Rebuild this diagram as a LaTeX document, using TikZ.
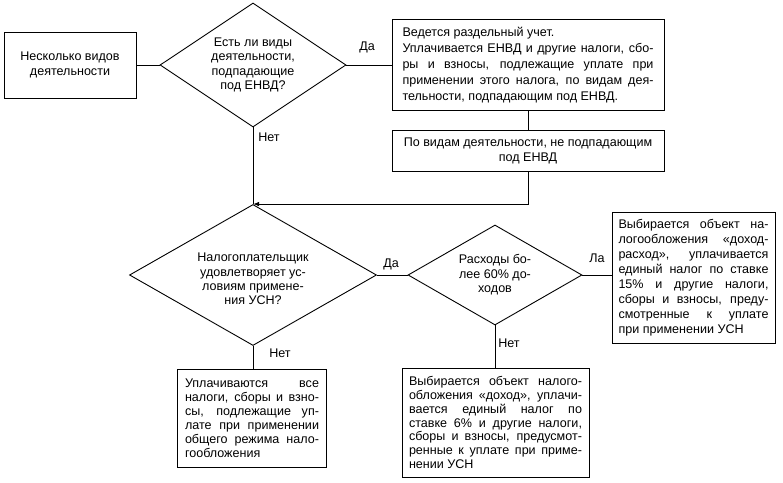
\documentclass[tikz,border=0pt]{standalone}
\usepackage{fontspec}
\setmainfont{Liberation Sans}
\usetikzlibrary{arrows.meta,shapes.geometric}

\begin{document}
\begin{tikzpicture}[
  x=1bp, y=-1bp,
  >={Latex[length=6bp,width=4.5bp]},
  line width=0.9bp,
  box/.style={draw,rectangle,inner sep=0pt,font=\fontsize{12.6}{14}\selectfont},
  dia/.style={draw,diamond,inner sep=0pt},
  dtext/.style={align=center,inner sep=0pt,font=\fontsize{12.6}{14.5}\selectfont},
  lbl/.style={inner sep=0pt,font=\fontsize{12.6}{14}\selectfont}
]
  \useasboundingbox (0,0) rectangle (783,483);

  % Upper part: ENVD question
  \node[box,minimum width=132bp,minimum height=66bp,align=center,
    font=\fontsize{12.6}{15}\selectfont] (start) at (70,65)
    {Несколько видов\\деятельности};
  \node[dia,minimum width=186bp,minimum height=124bp] (envd) at (253,65) {};
  \node[dtext] at (envd) {Есть ли виды\\деятельности,\\подпадающие\\под ЕНВД?};

  \node[box,minimum width=272bp,minimum height=91bp,text width=251bp,align=justify,
    font=\fontsize{12.6}{16}\selectfont] (split) at (528,65)
    {Ведется раздельный учет.\\
     Уплачивается ЕНВД и другие налоги, сбо-\linebreak ры и взносы, подлежащие уплате при\linebreak
     применении этого налога, по видам дея-\linebreak тельности, подпадающим под ЕНВД.};
  \node[box,minimum width=272bp,minimum height=41bp,align=center,
    font=\fontsize{12.6}{15}\selectfont] (rest) at (528,150.5)
    {По видам деятельности, не подпадающим\\под ЕНВД};

  % Lower part: USN question
  \node[dia,minimum width=247bp,minimum height=141bp] (usn) at (253,275) {};
  \node[dtext,yshift=-4bp] at (usn)
    {Налогоплательщик\\удовлетворяет ус-\\ловиям примене-\\ния УСН?};
  \node[dia,minimum width=174bp,minimum height=100bp] (costs) at (495,275) {};
  \node[dtext] at (costs) {Расходы бо-\\лее 60\% до-\\ходов};

  \node[box,minimum width=163bp,minimum height=131bp,text width=150bp,align=justify,
    font=\fontsize{12.6}{15}\selectfont] (incexp) at (693.5,277.5)
    {Выбирается объект на-\linebreak логообложения «доход-\linebreak расход», уплачивается\linebreak
     единый налог по ставке\linebreak 15\% и другие налоги,\linebreak сборы и взносы, преду-\linebreak
     смотренные к уплате\linebreak при применении УСН};
  \node[box,minimum width=149bp,minimum height=98bp,text width=134bp,align=justify] (general) at (252,418)
    {Уплачиваются все\linebreak налоги, сборы и взно-\linebreak сы, подлежащие уп-\linebreak
     лате при применении\linebreak общего режима нало-\linebreak гообложения};
  \node[box,minimum width=187bp,minimum height=109bp,text width=173bp,align=justify] (income) at (495.5,422.5)
    {Выбирается объект налого-\linebreak обложения «доход», уплачи-\linebreak вается единый налог по\linebreak
     ставке 6\% и другие налоги,\linebreak сборы и взносы, предусмот-\linebreak ренные к уплате при приме-\linebreak
     нении УСН};

  % Connectors
  \draw (start.east) -- (envd.west);
  \draw (envd.east) -- (split.west);
  \draw (split.south) -- (rest.north);
  \draw (envd.south) -- (usn.north);
  \draw[->] (rest.south) |- (usn.north);
  \draw (usn.east) -- (costs.west);
  \draw (costs.east) -- (costs.east -| incexp.west);
  \draw (usn.south) -- (usn.south |- general.north);
  \draw (costs.south) -- (costs.south |- income.north);

  % Branch labels
  \node[lbl] (yes1) at (367,47) {Да};
  \node[lbl] (no1) at (269,137) {Нет};
  \node[lbl] (yes2) at (391,264) {Да};
  \node[lbl] (yes3) at (597,258) {Ла};
  \node[lbl] (no2) at (280,353) {Нет};
  \node[lbl] (no3) at (509,343) {Нет};
\end{tikzpicture}
\end{document}
